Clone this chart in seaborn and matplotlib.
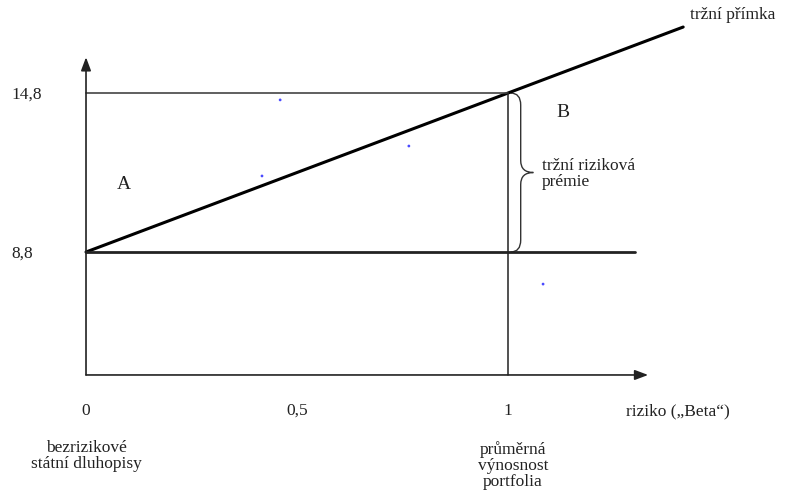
import seaborn as sns
import matplotlib.pyplot as plt
from matplotlib.path import Path
from matplotlib.patches import PathPatch

# hodnoty z grafu
rf = 8.8
rm = 14.8
sml_beta = [0, 1.415]
sml_return = [8.8, 17.29]
rf_beta = [0, 1.3]
rf_return = [8.8, 8.8]
rm_beta = [0, 1]
rm_return = [14.8, 14.8]
dots_beta = [0.46, 0.417, 0.765, 1.083]
dots_return = [14.54, 11.67, 12.8, 7.59]
x_ticks = [0, 0.5, 1]
x_ticklabels = ["0", "0,5", "1"]
y_ticks = [14.8, 8.8]
y_ticklabels = ["14,8", "8,8"]

sns.set_style("white")
plt.rcParams['font.family'] = ['Liberation Serif', 'DejaVu Serif']

fig = plt.figure(figsize=(7.87, 4.93), dpi=100)
ax = fig.add_axes([0, 0, 1, 1])
ax.set_xlim(-0.2038, 1.661)
ax.set_ylim(-0.294, 18.31)
ax.axis("off")

y_axis0 = 4.16  # kde lezi osa x

sns.lineplot(x=sml_beta, y=sml_return, ax=ax, color="black", lw=2.2)
sns.lineplot(x=rf_beta, y=rf_return, ax=ax, color="#222222", lw=2.0)
sns.lineplot(x=rm_beta, y=rm_return, ax=ax, color="#444444", lw=1.2)
ax.plot([1, 1], [y_axis0, rm], color="#222222", lw=1.1)
sns.scatterplot(x=dots_beta, y=dots_return, ax=ax, color="#4a4aff", s=4, edgecolor="none")

# osy se sipkami
arrow = dict(arrowstyle="-|>,head_length=0.8,head_width=0.3", color="#222222", lw=1.2, shrinkA=0, shrinkB=0)
ax.annotate("", xy=(1.332, y_axis0), xytext=(0, y_axis0), arrowprops=arrow)
ax.annotate("", xy=(0, 16.15), xytext=(0, y_axis0), arrowprops=arrow)

fs = 12.5
tc = "#222222"
for t, lab in zip(x_ticks, x_ticklabels):
    ax.text(t, 2.8, lab, ha="center", va="center", fontsize=fs, color=tc)
for t, lab in zip(y_ticks, y_ticklabels):
    ax.text(-0.176, t - 0.08, lab, ha="left", va="center", fontsize=fs, color=tc)

ax.text(1.28, 2.8, "riziko („Beta“)", ha="left", va="center", fontsize=fs, color=tc)
ax.text(0.002, 1.1, "bezrizikové\nstátní dluhopisy", ha="center", va="center", fontsize=fs,
        color=tc, linespacing=1.0)
ax.text(1.012, 0.75, "průměrná\nvýnosnost\nportfolia", ha="center", va="center", fontsize=fs,
        color=tc, linespacing=0.98)
ax.text(1.43, 17.74, "tržní přímka", ha="left", va="center", fontsize=fs, color=tc)
ax.text(0.09, 11.35, "A", ha="center", va="center", fontsize=14, color=tc)
ax.text(1.13, 14.05, "B", ha="center", va="center", fontsize=14, color=tc)
ax.text(1.081, 11.76, "tržní riziková\nprémie", ha="left", va="center", fontsize=fs,
        color=tc, linespacing=1.0)

# slozena zavorka
x0, xm, xt = 1.006, 1.03, 1.06
ym = (rf + rm) / 2
r = 0.45
verts = [(x0, rm), (xm, rm), (xm, rm - r), (xm, rm - r),
         (xm, ym + r), (xm, ym), (xt, ym), (xt, ym),
         (xm, ym), (xm, ym - r), (xm, ym - r),
         (xm, rf + r), (xm, rf), (x0, rf)]
codes = [Path.MOVETO, Path.CURVE3, Path.CURVE3, Path.LINETO,
         Path.LINETO, Path.CURVE3, Path.CURVE3, Path.LINETO,
         Path.CURVE3, Path.CURVE3, Path.LINETO,
         Path.LINETO, Path.CURVE3, Path.CURVE3]
ax.add_patch(PathPatch(Path(verts, codes), fill=False, lw=1.0, edgecolor="#333333"))

fig.savefig("out.png", dpi=100)
plt.close()
